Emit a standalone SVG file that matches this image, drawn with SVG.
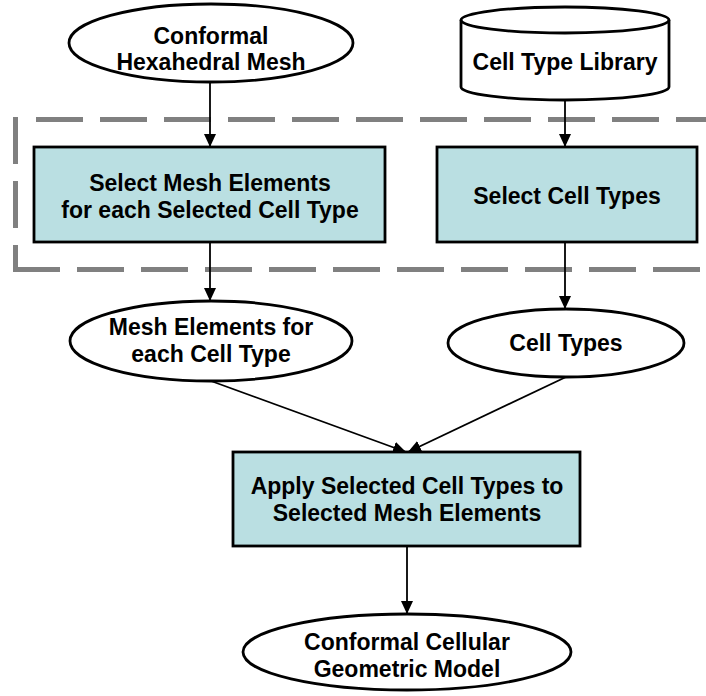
<svg xmlns="http://www.w3.org/2000/svg" width="706" height="696" viewBox="0 0 706 696">
<style>
text{font-family:"Liberation Sans",Arial,sans-serif;font-weight:bold;font-size:23px;text-anchor:middle;fill:#000}
.node{stroke:#000;stroke-width:2.8}
.proc{fill:#BADFE2}
.data{fill:#fff}
.edge{stroke:#000;stroke-width:1.8;fill:none;marker-end:url(#ah)}
.grp{fill:none;stroke:#808080;stroke-width:5;stroke-dasharray:47 17}
</style>
<defs>
<marker id="ah" viewBox="0 0 13 12" refX="13" refY="6" markerWidth="13" markerHeight="12" markerUnits="userSpaceOnUse" orient="auto">
<path d="M0,0 L13,6 L0,12 z" fill="#000"/>
</marker>
</defs>
<rect fill="#fff" width="706" height="696"/>
<g id="group-box">
<line class="grp" x1="15.5" y1="117" x2="15.5" y2="269"/>
<line class="grp" x1="13" y1="269.5" x2="720" y2="269.5"/>
<line class="grp" x1="36" y1="119.5" x2="720" y2="119.5"/>
</g>
<g id="connectors">
<line class="edge" x1="210" y1="82" x2="210" y2="147"/>
<line class="edge" x1="565" y1="100" x2="565" y2="147"/>
<line class="edge" x1="210" y1="242" x2="210" y2="301"/>
<line class="edge" x1="565" y1="242" x2="565" y2="309"/>
<line class="edge" x1="211" y1="381" x2="406" y2="452"/>
<line class="edge" x1="566" y1="377" x2="408" y2="452"/>
<line class="edge" x1="407" y1="546" x2="407" y2="614"/>
</g>
<g id="n-mesh">
<ellipse class="node data" cx="211" cy="43" rx="142" ry="39"/>
<text x="211" y="44">Conformal</text>
<text x="211" y="70">Hexahedral Mesh</text>
</g>
<g id="n-library">
<path class="node data" d="M461,20 L461,87 A104,13 0 0 0 669,87 L669,20 A104,13 0 0 0 461,20 Z"/>
<path class="node" fill="none" d="M461,20 A104,13 0 0 0 669,20"/>
<text x="565" y="70">Cell Type Library</text>
</g>
<g id="n-select-mesh">
<rect class="node proc" x="34" y="147" width="351" height="95"/>
<text x="210" y="191">Select Mesh Elements</text>
<text x="210" y="218">for each Selected Cell Type</text>
</g>
<g id="n-select-types">
<rect class="node proc" x="437" y="147" width="260" height="95"/>
<text x="567" y="204">Select Cell Types</text>
</g>
<g id="n-mesh-elements">
<ellipse class="node data" cx="211" cy="341" rx="141" ry="40"/>
<text x="211" y="335">Mesh Elements for</text>
<text x="211" y="362">each Cell Type</text>
</g>
<g id="n-cell-types">
<ellipse class="node data" cx="566" cy="343" rx="118" ry="34"/>
<text x="566" y="351">Cell Types</text>
</g>
<g id="n-apply">
<rect class="node proc" x="233" y="452" width="347" height="94"/>
<text x="407" y="494">Apply Selected Cell Types to</text>
<text x="407" y="521">Selected Mesh Elements</text>
</g>
<g id="n-model">
<ellipse class="node data" cx="407" cy="652" rx="164" ry="38"/>
<text x="407" y="650">Conformal Cellular</text>
<text x="407" y="677">Geometric Model</text>
</g>
</svg>
